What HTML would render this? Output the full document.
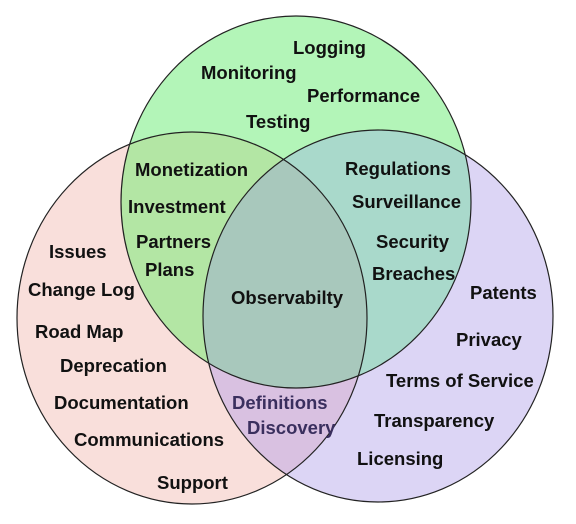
<!DOCTYPE html>
<html><head><meta charset="utf-8"><style>
html,body{margin:0;padding:0;background:#fff;}
svg{display:block;}
text{font-family:"Liberation Sans",Arial,sans-serif;font-weight:bold;font-size:18.5px;fill:#111;}
</style></head><body>
<svg width="576" height="524" viewBox="0 0 576 524" xmlns="http://www.w3.org/2000/svg">
<defs>
<clipPath id="g"><ellipse cx="296" cy="202" rx="175" ry="186"/></clipPath>
<clipPath id="p"><ellipse cx="192" cy="318" rx="175" ry="186"/></clipPath>
<clipPath id="u"><ellipse cx="378" cy="316" rx="175" ry="186"/></clipPath>
</defs>
<ellipse cx="192" cy="318" rx="175" ry="186" fill="#f9dfdb"/>
<ellipse cx="378" cy="316" rx="175" ry="186" fill="#dcd5f5"/>
<ellipse cx="296" cy="202" rx="175" ry="186" fill="#b3f5b8"/>
<g clip-path="url(#p)"><ellipse cx="378" cy="316" rx="175" ry="186" fill="#d9c1e1"/></g>
<g clip-path="url(#g)"><ellipse cx="192" cy="318" rx="175" ry="186" fill="#b3e6a4"/><ellipse cx="378" cy="316" rx="175" ry="186" fill="#a9d9cb"/></g>
<g clip-path="url(#g)"><g clip-path="url(#p)"><ellipse cx="378" cy="316" rx="175" ry="186" fill="#a8c8bc"/></g></g>
<g fill="none" stroke="#222" stroke-width="1.2">
<ellipse cx="192" cy="318" rx="175" ry="186"/>
<ellipse cx="378" cy="316" rx="175" ry="186"/>
<ellipse cx="296" cy="202" rx="175" ry="186"/>
</g>
<text x="293" y="54">Logging</text>
<text x="201" y="79">Monitoring</text>
<text x="307" y="102">Performance</text>
<text x="246" y="128">Testing</text>
<text x="135" y="176">Monetization</text>
<text x="128" y="213">Investment</text>
<text x="136" y="248">Partners</text>
<text x="145" y="276">Plans</text>
<text x="231" y="304">Observabilty</text>
<text x="345" y="175">Regulations</text>
<text x="352" y="208">Surveillance</text>
<text x="376" y="248">Security</text>
<text x="372" y="280">Breaches</text>
<text x="49" y="258">Issues</text>
<text x="28" y="296">Change Log</text>
<text x="35" y="338">Road Map</text>
<text x="60" y="372">Deprecation</text>
<text x="54" y="409">Documentation</text>
<text x="74" y="446">Communications</text>
<text x="157" y="489">Support</text>
<text x="470" y="299">Patents</text>
<text x="456" y="346">Privacy</text>
<text x="386" y="387">Terms of Service</text>
<text x="374" y="427">Transparency</text>
<text x="357" y="465">Licensing</text>
<text x="232" y="409" style="fill:#3a2f5e">Definitions</text>
<text x="247" y="434" style="fill:#3a2f5e">Discovery</text>
</svg>
</body></html>
